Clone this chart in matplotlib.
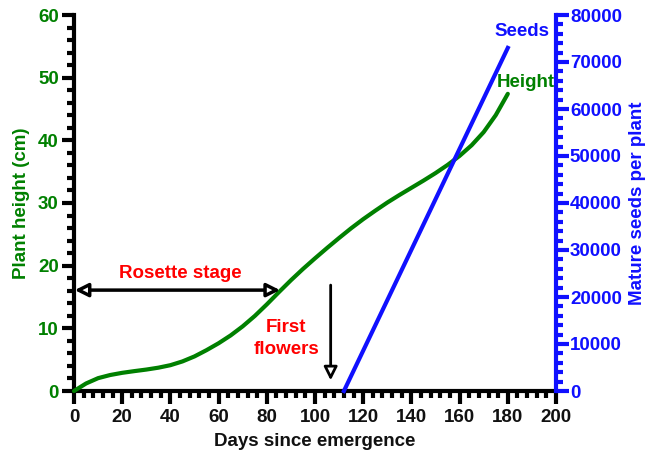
import matplotlib
matplotlib.use("Agg")
import matplotlib.pyplot as plt
from matplotlib.ticker import MultipleLocator

plt.rcParams['font.family'] = ['Liberation Sans', 'DejaVu Sans']
plt.rcParams['font.weight'] = 'bold'

# Data
days_height = [0, 5, 10, 15, 20, 25, 30, 35, 40, 45, 50, 55, 60, 65, 70, 75, 80, 85, 90,
               95, 100, 105, 110, 115, 120, 125, 130, 135, 140, 145, 150, 155, 160, 165,
               170, 175, 180]
height_cm = [0, 1.2, 2.05, 2.55, 2.9, 3.17, 3.42, 3.72, 4.12, 4.72, 5.52, 6.52, 7.62,
             8.87, 10.32, 11.97, 13.82, 15.77, 17.67, 19.47, 21.17, 22.82, 24.42, 25.97,
             27.42, 28.77, 30.07, 31.27, 32.42, 33.57, 34.77, 36.07, 37.52, 39.22, 41.32,
             44.02, 47.42]
days_seeds = [112, 180]
seeds = [0, 73000]

x_ticks = list(range(0, 201, 20))
y_left_ticks = list(range(0, 61, 10))
y_right_ticks = list(range(0, 80001, 10000))

GREEN = '#008000'
BLUE = '#1010ff'
RED = '#ff0000'
FS = 13.5

fig = plt.figure(figsize=(6.51, 4.55), dpi=100)
ax = fig.add_axes([74/651, 1-391/455, (556-74)/651, (391-15)/455])
ax2 = ax.twinx()

ax.plot(days_height, height_cm, color=GREEN, lw=3, clip_on=False, zorder=3,
        solid_capstyle='round', solid_joinstyle='round')
ax2.plot(days_seeds, seeds, color=BLUE, lw=3, clip_on=False, zorder=3)

ax.set_xlim(0, 200)
ax.set_ylim(0, 60)
ax2.set_ylim(0, 80000)

ax.set_xticks(x_ticks)
ax.set_yticks(y_left_ticks)
ax2.set_yticks(y_right_ticks)
ax.xaxis.set_minor_locator(MultipleLocator(4))
ax.yaxis.set_minor_locator(MultipleLocator(2))
ax2.yaxis.set_minor_locator(MultipleLocator(2000))

for a in (ax, ax2):
    a.spines['top'].set_visible(False)
    for s in a.spines.values():
        s.set_linewidth(3)

ax.spines['right'].set_visible(False)
ax2.spines['left'].set_visible(False)
ax2.spines['bottom'].set_visible(False)
ax2.spines['right'].set_color(BLUE)

ax.tick_params(axis='both', which='major', direction='out', length=9, width=3,
               labelsize=FS, color='black')
ax.tick_params(axis='both', which='minor', direction='out', length=5, width=3,
               color='black')
ax.tick_params(axis='y', labelcolor=GREEN, pad=2)
ax.tick_params(axis='x', labelcolor='#111111', pad=4)
ax2.tick_params(axis='y', which='major', direction='out', length=9, width=3,
                color=BLUE, labelcolor=BLUE, labelsize=FS, pad=1)
ax2.tick_params(axis='y', which='minor', direction='out', length=5, width=3,
                color=BLUE)

for lab in ax.get_xticklabels() + ax.get_yticklabels() + ax2.get_yticklabels():
    lab.set_fontweight('bold')

ax.set_xlabel('Days since emergence', fontsize=FS, fontweight='bold', color='#111111',
              labelpad=5)
ax.set_ylabel('Plant height (cm)', fontsize=FS, fontweight='bold', color=GREEN,
              labelpad=6)
ax2.set_ylabel('Mature seeds per plant', fontsize=FS, fontweight='bold', color=BLUE,
               labelpad=5)

# Annotations
ax.annotate('', xy=(0.3, 16.1), xytext=(85.5, 16.1),
            arrowprops=dict(arrowstyle='<|-|>,head_length=0.8,head_width=0.4',
                            lw=2.5, color='black', fc='white', shrinkA=0, shrinkB=0),
            annotation_clip=False, zorder=4)
ax.text(44, 18.7, 'Rosette stage', color=RED, fontsize=FS, fontweight='bold',
        ha='center', va='center')
ax.annotate('', xy=(106.5, 1.7), xytext=(106.5, 16.9),
            arrowprops=dict(arrowstyle='-|>,head_length=0.8,head_width=0.4',
                            lw=2, color='black', fc='white', shrinkA=0, shrinkB=0),
            zorder=4)
ax.text(88, 8.4, 'First\nflowers', color=RED, fontsize=FS, fontweight='bold',
        ha='center', va='center', linespacing=1.35)
ax.text(174.5, 57.3, 'Seeds', color=BLUE, fontsize=FS, fontweight='bold',
        ha='left', va='center')
ax.text(175.5, 49.3, 'Height', color=GREEN, fontsize=FS, fontweight='bold',
        ha='left', va='center')

fig.savefig('out.png', dpi=100)
